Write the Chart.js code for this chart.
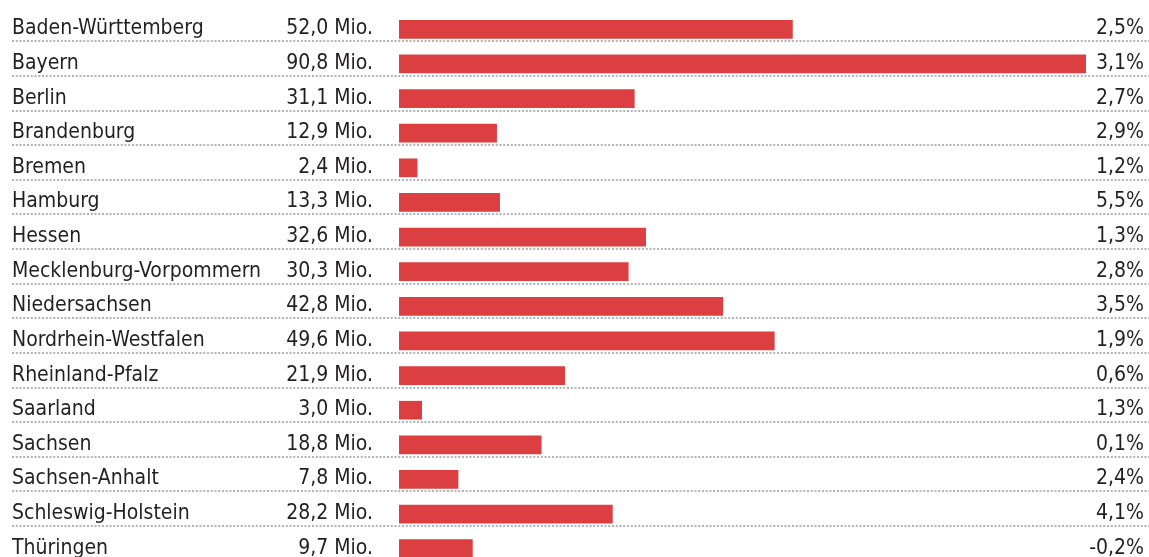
<!DOCTYPE html>
<html>
<head>
<meta charset="utf-8">
<script src="https://cdn.jsdelivr.net/npm/chart.js@4"></script>
<style>
  html, body { margin: 0; padding: 0; background: #fff; overflow: hidden; }
  #wrap { position: relative; width: 1149px; height: 580px; }
</style>
</head>
<body>
<div id="wrap"><canvas id="chart"></canvas></div>
<script>
// Länder, Beträge (Mio.) und Veränderung (%)
const laender = [
  'Baden-Württemberg', 'Bayern', 'Berlin', 'Brandenburg', 'Bremen', 'Hamburg',
  'Hessen', 'Mecklenburg-Vorpommern', 'Niedersachsen', 'Nordrhein-Westfalen',
  'Rheinland-Pfalz', 'Saarland', 'Sachsen', 'Sachsen-Anhalt',
  'Schleswig-Holstein', 'Thüringen',
];
const betraege = [52.0, 90.8, 31.1, 12.9, 2.4, 13.3, 32.6, 30.3, 42.8, 49.6, 21.9, 3.0, 18.8, 7.8, 28.2, 9.7];
const veraenderung = [2.5, 3.1, 2.7, 2.9, 1.2, 5.5, 1.3, 2.8, 3.5, 1.9, 0.6, 1.3, 0.1, 2.4, 4.1, -0.2];

const FONT = '21px "Liberation Sans Narrow", "DejaVu Sans Condensed", "Roboto", sans-serif';
const TEXT_COLOR = '#231f20';

const fmt = (v, digits) => v.toFixed(digits).replace('.', ',');

// Texte und gepunktete Trennlinien selbst zeichnen
const tablePlugin = {
  id: 'tableText',
  afterDatasetsDraw(chart) {
    const { ctx } = chart;
    const yScale = chart.scales.y;
    ctx.save();
    ctx.font = FONT;
    ctx.fillStyle = TEXT_COLOR;
    ctx.textBaseline = 'alphabetic';
    laender.forEach((name, i) => {
      const y = yScale.getPixelForValue(i);
      ctx.textAlign = 'left';
      ctx.fillText(name, 12, y + 5);
      ctx.textAlign = 'right';
      ctx.fillText(`${fmt(betraege[i], 1)} Mio.`, 373, y + 5);
      ctx.fillText(`${fmt(veraenderung[i], 1)}%`, 1144, y + 5);

      // Trennlinie (gepunktet)
      const ly = Math.round(y + 12);
      ctx.strokeStyle = '#b3b3b3';
      ctx.lineWidth = 2;
      ctx.setLineDash([2, 1.75]);
      ctx.beginPath();
      ctx.moveTo(12, ly);
      ctx.lineTo(1149, ly);
      ctx.stroke();
    });
    ctx.restore();
  },
};

new Chart(document.getElementById('chart'), {
  type: 'bar',
  data: {
    labels: laender,
    datasets: [
      {
        data: betraege,
        backgroundColor: '#db3f41',
        barThickness: 18,
      },
    ],
  },
  options: {
    indexAxis: 'y',
    responsive: true,
    maintainAspectRatio: false,
    animation: false,
    layout: {
      padding: { left: 399, right: 63, top: 12, bottom: 14 },
    },
    scales: {
      x: { display: false, min: 0, max: Math.max(...betraege) },
      y: { display: false },
    },
    plugins: {
      legend: { display: false },
      tooltip: { enabled: false },
    },
  },
  plugins: [tablePlugin],
});
</script>
</body>
</html>
